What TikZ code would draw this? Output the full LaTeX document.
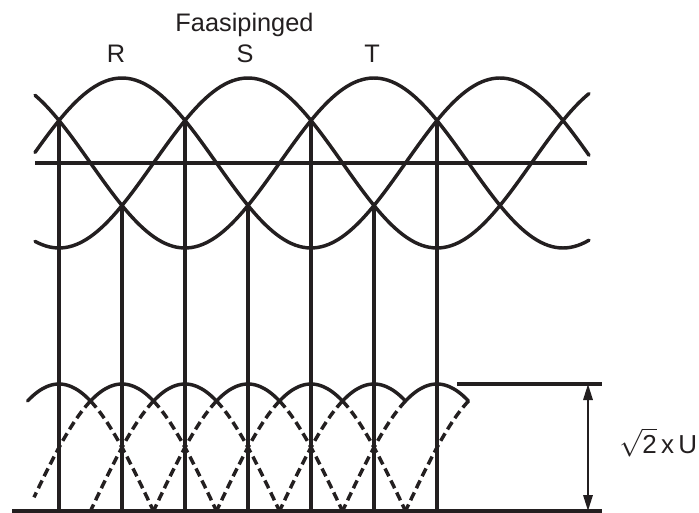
\documentclass[tikz,border=0pt]{standalone}
\usepackage{fontspec}
\setmainfont{Liberation Sans}
\usetikzlibrary{arrows.meta}

\begin{document}
\begin{tikzpicture}[x=0.75pt, y=-0.75pt,
    wave/.style={draw=lineColour, line width=2.6pt, line cap=round},
    dashwave/.style={draw=lineColour, line width=2.6pt, dash pattern=on 6.5pt off 3.5pt},
    heavy/.style={draw=lineColour, line width=3.3pt},
    dimension/.style={draw=lineColour, line width=1.6pt, {Triangle[length=12pt, width=7pt]}-{Triangle[length=12pt, width=7pt]}},
    phaseText/.style={font=\fontsize{19}{22}\selectfont, text=lineColour, inner sep=0pt}]
    % Define wave scale (pixel units, y pointing down)
    \def\period{378}
    \def\phaseStep{63}
    \def\firstX{59}
    \def\midY{163}
    \def\ampTop{85}
    \def\baseY{511}
    \def\ampBot{127}

    \definecolor{lineColour}{HTML}{231F20}

    \useasboundingbox (0,0) rectangle (699,513);

    % Labels
    \node[phaseText, anchor=base] (title) at (244.5,32) {Faasipinged};
    \node[phaseText, anchor=base] (phaseR) at (116,63) {R};
    \node[phaseText, anchor=base] (phaseS) at (245,63) {S};
    \node[phaseText, anchor=base] (phaseT) at (372,63) {T};

    % Draw the three phase voltages
    \foreach \peak in {122,248,374}
        \draw[wave] plot[domain=35:589, samples=150] (\x, {\midY - \ampTop*cos((\x-\peak)/\period*360)});

    % Draw zero line
    \coordinate (zeroStart) at (35,\midY);
    \coordinate (zeroEnd) at (587,\midY);
    \draw[heavy] (zeroStart) -- (zeroEnd);

    % Draw baseline and reference line
    \coordinate (baseStart) at (12,\baseY);
    \coordinate (baseEnd) at (602,\baseY);
    \coordinate (refStart) at (457,384);
    \coordinate (refEnd) at (602,384);
    \draw[heavy] (baseStart) -- (baseEnd);
    \draw[heavy] (refStart) -- (refEnd);

    % Draw switching instants
    \foreach \k in {0,...,6} {
        \pgfmathsetmacro{\vx}{\firstX+\phaseStep*\k}
        \pgfmathsetmacro{\vy}{\midY+(2*mod(\k,2)-1)*\ampTop/2}
        \coordinate (top\k) at (\vx,\vy);
        \coordinate (bot\k) at (\vx,\baseY);
        \draw[heavy] (top\k) -- (bot\k);
    }

    % Draw rectified voltage
    \foreach \k in {0,...,6} {
        \pgfmathsetmacro{\hx}{\firstX+\phaseStep*\k}
        \draw[wave] plot[domain=\hx-31.5:\hx+31.5, samples=25] (\x, {\baseY - \ampBot*cos((\x-\hx)/\period*360)});
    }

    % Dashed rising parts
    \foreach \k in {1,...,7} {
        \pgfmathsetmacro{\hx}{\firstX+\phaseStep*\k}
        \pgfmathsetmacro{\lx}{max(\hx-94.5,34)}
        \draw[dashwave] plot[domain=\hx-31.5:\lx, samples=25] (\x, {\baseY - \ampBot*cos((\x-\hx)/\period*360)});
    }

    % Dashed falling parts
    \foreach \k in {0,...,4} {
        \pgfmathsetmacro{\hx}{\firstX+\phaseStep*\k}
        \draw[dashwave] plot[domain=\hx+31.5:\hx+94.5, samples=25] (\x, {\baseY - \ampBot*cos((\x-\hx)/\period*360)});
    }

    % Peak value
    \coordinate (dimTop) at (588,384);
    \coordinate (dimBot) at (588,\baseY);
    \draw[dimension] (dimTop) -- (dimBot);
    \node[phaseText, font=\fontsize{19.5}{24}\selectfont, anchor=base west] (peakLabel) at (619,453) {$\sqrt{\mbox{2}}$\,x\,U};

\end{tikzpicture}
\end{document}
